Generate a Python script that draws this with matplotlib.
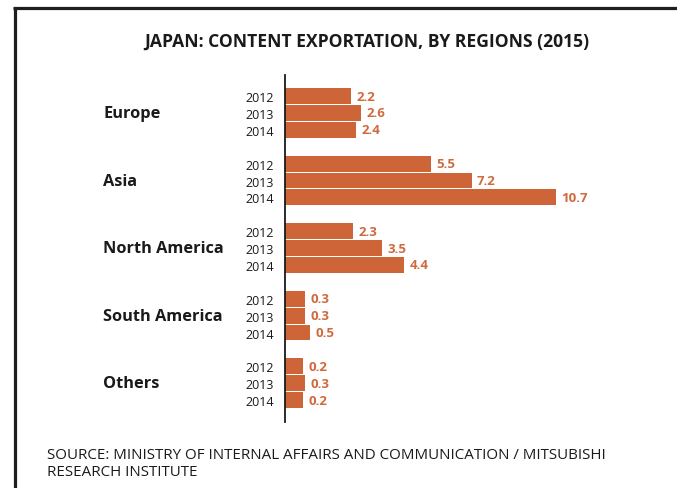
import matplotlib
matplotlib.use("Agg")
import matplotlib.pyplot as plt
from matplotlib.lines import Line2D
from matplotlib.transforms import blended_transform_factory

# Content exportation values by region and year
regions = ["Europe", "Asia", "North America", "South America", "Others"]
years = ["2012", "2013", "2014"]
values = {
    "Europe": [2.2, 2.6, 2.4],
    "Asia": [5.5, 7.2, 10.7],
    "North America": [2.3, 3.5, 4.4],
    "South America": [0.3, 0.3, 0.5],
    "Others": [0.2, 0.3, 0.2],
}

title = "JAPAN: CONTENT EXPORTATION, BY REGIONS (2015)"
source = ("SOURCE: MINISTRY OF INTERNAL AFFAIRS AND COMMUNICATION / MITSUBISHI\n"
          "RESEARCH INSTITUTE")

BAR = "#cd6538"
LABEL = "#d06a3e"
BASE = -0.54  # bars grow from the baseline drawn left of zero
FONT = ["Open Sans", "DejaVu Sans"]

W, H = 677, 489
fig = plt.figure(figsize=(W / 100, H / 100), dpi=100)
fig.patch.set_facecolor("white")

# frame lines along the top and left edges
fig.add_artist(Line2D([13 / W, 1.0], [1 - 9 / H, 1 - 9 / H], color="#1e1e1e",
                      lw=2.3, transform=fig.transFigure, solid_capstyle="butt"))
fig.add_artist(Line2D([14.5 / W, 14.5 / W], [0.0, 1 - 8 / H], color="#1e1e1e",
                      lw=2.3, transform=fig.transFigure, solid_capstyle="butt"))

ax = fig.add_axes([285 / W, 1 - 423 / H, (640 - 285) / W, (423 - 76) / H])

slots, labels, widths = [], [], []
for g, region in enumerate(regions):
    for k, year in enumerate(years):
        slots.append(4 * g + k)
        labels.append(year)
        widths.append(values[region][k])

ax.barh(slots, [v - BASE for v in widths], left=BASE, height=0.94, color=BAR)
for s, v in zip(slots, widths):
    ax.annotate(f"{v:g}", (v, s), xytext=(4, 0), textcoords="offset points",
                ha="left", va="center", color=LABEL, fontsize=9.5,
                fontweight="bold", family=FONT)

ax.set_xlim(BASE, BASE + (640 - 285) / 24.1)
ax.set_ylim(19.3, -1.25)
ax.set_yticks(slots)
ax.set_yticklabels(labels, fontsize=9, family=FONT, color="#1a1a1a")
ax.tick_params(axis="y", length=0, pad=8)
ax.set_xticks([])
for side in ("top", "right", "bottom"):
    ax.spines[side].set_visible(False)
ax.spines["left"].set_linewidth(1.3)
ax.spines["left"].set_color("#1a1a1a")
ax.patch.set_alpha(0)

tr = blended_transform_factory(fig.transFigure, ax.transData)
for g, region in enumerate(regions):
    ax.text(103 / W, 4 * g + 1, region, transform=tr, ha="left", va="center",
            fontsize=11.8, fontweight="bold", color="#1a1a1a", family=FONT)

fig.text(367 / W, 1 - 42 / H, title, ha="center", va="center", fontsize=12.6,
         fontweight="bold", color="#1a1a1a", family=FONT)

fig.text(47 / W, 1 - 448 / H, source, ha="left", va="top", fontsize=10.9,
         color="#1a1a1a", linespacing=1.15, family=FONT)

fig.savefig("out.png", dpi=100, facecolor="white")
